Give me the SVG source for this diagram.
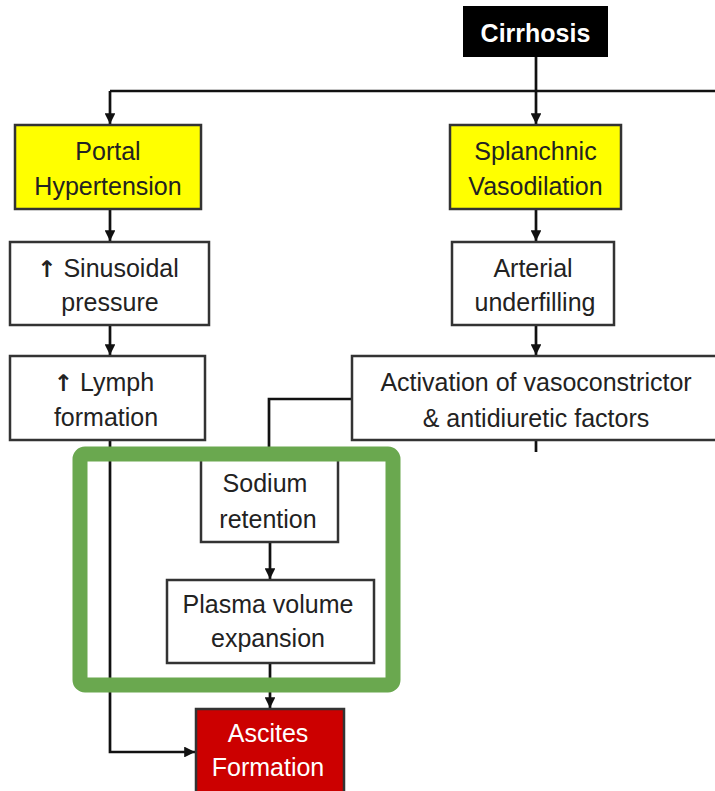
<svg xmlns="http://www.w3.org/2000/svg" width="715" height="791" viewBox="0 0 715 791">
<defs>
<marker id="ah" viewBox="0 0 10 10" refX="10" refY="5" markerWidth="4" markerHeight="4" orient="auto" markerUnits="strokeWidth">
<path d="M0,0 L10,5 L0,10 z" fill="#111"/>
</marker>
<style>
.box{stroke:#333;stroke-width:2.5;fill:#fff}
.yel{fill:#ffff00}
.t{font-family:"Liberation Sans",Arial,sans-serif;font-size:25px;fill:#222;text-anchor:middle}
.w{fill:#fff}
.b{font-weight:bold}
.arr{font-family:"DejaVu Sans","Liberation Sans",sans-serif;font-size:23px;font-weight:bold}
.c{fill:none;stroke:#111;stroke-width:2.7}
.ca{marker-end:url(#ah)}
</style>
</defs>
<rect width="715" height="791" fill="#fff"/>
<g id="connectors">
<path class="c ca" d="M536,57 V124"/>
<path class="c" d="M110,91 H716"/>
<path class="c ca" d="M110,91 V124"/>
<path class="c ca" d="M110,209 V241"/>
<path class="c ca" d="M536,209 V241"/>
<path class="c ca" d="M110,325 V355"/>
<path class="c ca" d="M536,325 V355"/>
<path class="c" d="M536,440 V452"/>
<path class="c" d="M352,399 H269 V457"/>
<path class="c ca" d="M270,542 V579"/>
<path class="c ca" d="M270,663 V708"/>
<path class="c ca" d="M110,440 V752 H195"/>
</g>
<g id="cirrhosis">
<rect x="463" y="6" width="145" height="51" fill="#000"/>
<text class="t w b" x="535.5" y="42">Cirrhosis</text>
</g>
<g id="portal">
<rect class="box yel" x="15" y="125" width="186" height="84"/>
<text class="t" x="108" y="160">Portal</text>
<text class="t" x="108" y="195">Hypertension</text>
</g>
<g id="splanchnic">
<rect class="box yel" x="450" y="125" width="171" height="84"/>
<text class="t" x="535.5" y="160">Splanchnic</text>
<text class="t" x="535.5" y="195">Vasodilation</text>
</g>
<g id="sinusoidal">
<rect class="box" x="10" y="242" width="199" height="83"/>
<text class="t" x="108" y="277"><tspan class="arr">↑</tspan> Sinusoidal</text>
<text class="t" x="110" y="311">pressure</text>
</g>
<g id="arterial">
<rect class="box" x="452" y="242" width="162" height="83"/>
<text class="t" x="533" y="277">Arterial</text>
<text class="t" x="535" y="311">underfilling</text>
</g>
<g id="lymph">
<rect class="box" x="10" y="356" width="195" height="84"/>
<text class="t" x="104" y="391"><tspan class="arr">↑</tspan> Lymph</text>
<text class="t" x="106" y="426">formation</text>
</g>
<g id="activation">
<rect class="box" x="352" y="356" width="370" height="84"/>
<text class="t" x="536" y="391">Activation of vasoconstrictor</text>
<text class="t" x="536" y="427">&amp; antidiuretic factors</text>
</g>
<g id="sodium">
<rect class="box" x="201" y="456" width="137" height="86"/>
<text class="t" x="265" y="492">Sodium</text>
<text class="t" x="268" y="528">retention</text>
</g>
<g id="plasma">
<rect class="box" x="167" y="580" width="207" height="83"/>
<text class="t" x="268" y="613">Plasma volume</text>
<text class="t" x="268" y="647">expansion</text>
</g>
<g id="ascites">
<rect x="196" y="709" width="148" height="90" fill="#cc0000" stroke="#333" stroke-width="2.5"/>
<text class="t w" x="268" y="742">Ascites</text>
<text class="t w" x="268" y="776">Formation</text>
</g>
<g id="highlight">
<rect x="80" y="454" width="313" height="231" rx="5" fill="none" stroke="#6aa84f" stroke-width="15"/>
</g>
</svg>
